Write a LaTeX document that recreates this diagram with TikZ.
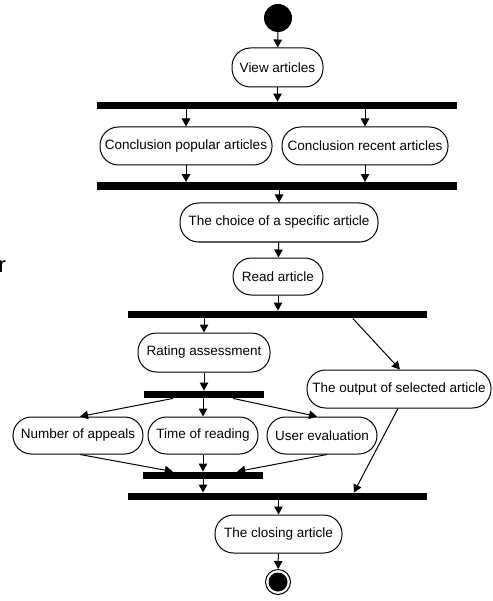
\documentclass[tikz,border=0pt]{standalone}
\usepackage{fontspec}
\setmainfont{Liberation Sans}
\usetikzlibrary{arrows.meta,calc}
\begin{document}
\begin{tikzpicture}[x=1pt,y=-1pt,
  act/.style={draw,line width=1pt,rounded corners=18.5pt,minimum height=38pt,inner xsep=1pt,inner ysep=0pt,font=\fontsize{13.5}{16}\selectfont,fill=white},
  bar/.style={fill=black,draw=none,inner sep=0pt,minimum height=7.5pt},
  arr/.style={line width=1pt,-{Triangle[length=8pt,width=8.5pt]}},
  lin/.style={line width=1pt}]
\useasboundingbox (0,0) rectangle (492,601);
\node[circle,fill=black,inner sep=0pt,minimum size=28pt] (start) at (278,18) {};
\node[act,minimum width=91pt,minimum height=39pt] (view) at (277.5,67.5) {View articles};
\node[bar,minimum width=360pt] (bar1) at (277,105.5) {};
\node[act,minimum width=172pt] (pop) at (186,146) {Conclusion popular articles};
\node[act,minimum width=166pt] (rec) at (365,146) {Conclusion recent articles};
\node[bar,minimum width=360pt] (bar2) at (277,186) {};
\node[act,minimum width=198pt,minimum height=39pt] (choice) at (279,222.5) {The choice of a specific article};
\node[act,minimum width=90pt,minimum height=37pt] (read) at (278,276.5) {Read article};
\node[bar,minimum width=299pt] (bar3) at (277.5,314.5) {};
\node[act,minimum width=132pt,minimum height=39pt] (rating) at (204,352.5) {Rating assessment};
\node[act,minimum width=184pt] (output) at (399,389) {The output of selected article};
\node[bar,minimum width=120pt] (bar4) at (204,394.5) {};
\node[act,minimum width=130pt,minimum height=37pt] (num) at (78,435.5) {Number of appeals};
\node[act,minimum width=110pt,minimum height=37pt] (time) at (203,435.5) {Time of reading};
\node[act,minimum width=110pt,minimum height=37pt] (user) at (322,435.5) {User evaluation};
\node[bar,minimum width=120pt] (bar5) at (203,475.5) {};
\node[bar,minimum width=299pt] (bar6) at (277.5,496.5) {};
\node[act,minimum width=127pt] (closing) at (278.5,534) {The closing article};
\node[circle,draw,line width=1pt,inner sep=0pt,minimum size=25pt] (end) at (278,582) {};
\node[circle,fill=black,inner sep=0pt,minimum size=19pt] (endin) at (end.center) {};
\node[anchor=base west,inner sep=0pt,font=\fontsize{22}{26}\selectfont] (frag) at (-1.5,272) {r};
% connectors
\draw[arr] (start) -- (view);
\draw[arr] (view) -- (view.south |- bar1.north);
\draw[arr] (pop.north |- bar1.south) -- (pop);
\draw[arr] (rec.north |- bar1.south) -- (rec);
\draw[arr] (pop) -- (pop.south |- bar2.north);
\draw[arr] (rec) -- (rec.south |- bar2.north);
\draw[arr] (choice.north |- bar2.south) -- (choice);
\draw[arr] (choice) -- (read);
\draw[arr] (read) -- (read.south |- bar3.north);
\draw[arr] (rating.north |- bar3.south) -- (rating);
\draw[arr] ([xshift=225pt]bar3.south west) -- ([xshift=1pt]output.north);
\draw[arr] (rating) -- (rating.south |- bar4.north);
\draw[arr] ([xshift=29pt]bar4.south west) -- ([xshift=2pt]num.north);
\draw[arr] (time.north |- bar4.south) -- (time);
\draw[arr] ([xshift=-31pt]bar4.south east) -- ([xshift=-5pt]user.north);
\draw[arr] ([xshift=2pt]num.south) -- ([xshift=30pt]bar5.north west);
\draw[arr] (time) -- (time.south |- bar5.north);
\draw[arr] ([xshift=5pt]user.south) -- ([xshift=-26pt]bar5.north east);
\draw[arr] (bar5.south) -- (bar5.south |- bar6.north);
\draw[arr] ([xshift=-1pt]output.south) -- ([xshift=226pt]bar6.north west);
\draw[arr] (closing.north |- bar6.south) -- (closing);
\draw[arr] (closing) -- (end);
\end{tikzpicture}
\end{document}
